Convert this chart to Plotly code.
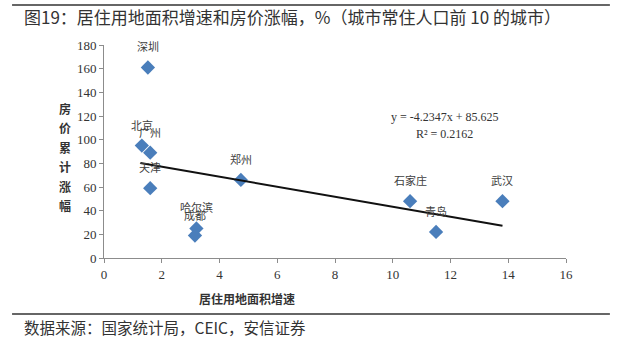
import numpy as np
import plotly.graph_objects as go

# City data: residential land area growth vs cumulative house price change (%)
cities = ["深圳", "北京", "广州", "天津", "郑州", "哈尔滨", "成都", "石家庄", "青岛", "武汉"]
land_growth = [1.52, 1.31, 1.60, 1.60, 4.74, 3.20, 3.15, 10.60, 11.50, 13.80]
price_change = [161, 95, 89, 59, 66, 25, 19, 48, 22, 48]

# Linear trend (as reported)
slope = -4.2347
intercept = 85.625
r_squared = 0.2162

x_ticks = [0, 2, 4, 6, 8, 10, 12, 14, 16]
y_ticks = [0, 20, 40, 60, 80, 100, 120, 140, 160, 180]

title_text = "图19：居住用地面积增速和房价涨幅，%（城市常住人口前 10 的城市）"
source_text = "数据来源：国家统计局，CEIC，安信证券"
x_title = "居住用地面积增速"
y_title = "房价累计涨幅"

CJK = "Noto Sans CJK SC"
SERIF = "Liberation Serif"

fig = go.Figure()

fig.add_trace(go.Scatter(
    x=land_growth, y=price_change, mode="markers",
    marker=dict(symbol="diamond", size=11, color="#4A7EBB"),
    showlegend=False, hoverinfo="skip",
))

trend_x = np.array([min(land_growth) - 0.05, max(land_growth)])
trend_y = slope * trend_x + intercept
fig.add_trace(go.Scatter(
    x=trend_x, y=trend_y, mode="lines",
    line=dict(color="#111111", width=2),
    showlegend=False, hoverinfo="skip",
))

annotations = []
# City labels above each point
for name, xv, yv in zip(cities, land_growth, price_change):
    annotations.append(dict(
        x=xv, y=yv, xref="x", yref="y", text=name, showarrow=False,
        xanchor="center", yanchor="middle", yshift=21,
        font=dict(family=CJK, size=11, color="#404040"),
    ))

# Trend equation
annotations.append(dict(
    x=11.8, y=119, xref="x", yref="y", showarrow=False,
    xanchor="center", yanchor="middle",
    text=f"y = {slope}x + {intercept}",
    font=dict(family=SERIF, size=12, color="#333333"),
))
annotations.append(dict(
    x=11.8, y=104.5, xref="x", yref="y", showarrow=False,
    xanchor="center", yanchor="middle",
    text=f"R² = {r_squared}",
    font=dict(family=SERIF, size=12, color="#333333"),
))

# Vertical y-axis title, one character per line
for i, ch in enumerate(y_title):
    annotations.append(dict(
        x=-0.0844, y=0.704 - i * 0.0915, xref="paper", yref="paper",
        xanchor="center", yanchor="middle",
        text=f"<b>{ch}</b>", showarrow=False,
        font=dict(family=CJK, size=12, color="#333333"),
    ))

# X-axis title
annotations.append(dict(
    x=0.31, y=-0.188, xref="paper", yref="paper", text=f"<b>{x_title}</b>",
    xanchor="center", yanchor="middle",
    showarrow=False, font=dict(family=CJK, size=12, color="#333333"),
))

# Title and source
annotations.append(dict(
    x=-0.177, y=1.135, xref="paper", yref="paper",
    xanchor="left", yanchor="middle",
    text=title_text, showarrow=False,
    font=dict(family=CJK, size=17, color="#333333"),
))
annotations.append(dict(
    x=-0.177, y=-0.324, xref="paper", yref="paper",
    xanchor="left", yanchor="middle",
    text=source_text, showarrow=False,
    font=dict(family=CJK, size=15.5, color="#333333"),
))

shapes = [
    dict(type="line", xref="paper", yref="paper", x0=-0.199, x1=1.095,
         y0=1.188, y1=1.188, line=dict(color="#333333", width=1.5)),
    dict(type="line", xref="paper", yref="paper", x0=-0.199, x1=1.095,
         y0=-0.263, y1=-0.263, line=dict(color="#333333", width=1.5)),
]

axis_common = dict(
    showgrid=False, zeroline=False, showline=True, linecolor="#8C8C8C",
    linewidth=1, ticks="outside", ticklen=4, tickcolor="#8C8C8C",
    tickfont=dict(family=SERIF, size=13, color="#333333"),
)

fig.update_layout(
    width=620, height=343,
    margin=dict(l=104, r=54, t=45, b=85),
    paper_bgcolor="white", plot_bgcolor="white",
    xaxis=dict(range=[0, 16], tickvals=x_ticks, **axis_common),
    yaxis=dict(range=[0, 180], tickvals=y_ticks, **axis_common),
    annotations=annotations, shapes=shapes,
)

fig.write_html("out.html")
